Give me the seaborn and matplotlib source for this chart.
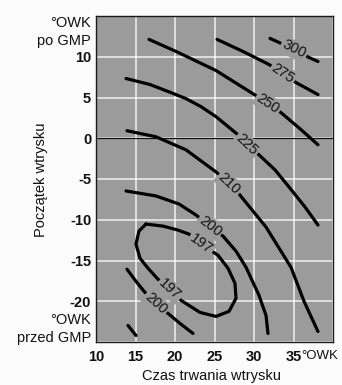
import numpy as np
import pandas as pd
import matplotlib
matplotlib.use("Agg")
import matplotlib.pyplot as plt
import seaborn as sns

# ---- data (contour lines of specific fuel consumption) ----
c300_x = [32.03, 33.42, 35.06, 36.96, 38.10]
c300_y = [12.25, 11.64, 10.90, 9.91, 9.42]

c275_x = [25.32, 28.61, 31.90, 33.67, 35.32, 38.10]
c275_y = [12.13, 10.65, 9.05, 7.94, 6.83, 5.36]

c250_x = [16.71, 20.13, 25.19, 30.25, 31.77, 33.42, 35.82, 38.10]
c250_y = [12.13, 10.65, 8.31, 5.23, 4.25, 3.14, 1.17, -0.80]

c225_x = [13.80, 16.84, 19.49, 21.39, 23.29, 25.19, 27.97, 29.11, 30.63, 32.66, 34.94, 36.46, 38.10]
c225_y = [7.33, 6.59, 5.60, 4.86, 3.88, 2.65, 0.43, -0.80, -2.03, -3.88, -6.59, -8.44, -10.65]

c210_x = [13.92, 17.59, 21.39, 25.19, 26.84, 28.10, 31.52, 34.68, 36.33, 38.10]
c210_y = [0.92, 0.18, -1.42, -4.13, -5.60, -6.83, -10.90, -15.83, -20.01, -23.71]

c210b_x = [14.05, 15.06]
c210b_y = [-22.97, -24.20]

c200_x = [13.80, 17.59, 20.51, 22.66, 24.43, 26.08, 27.72, 28.99, 30.63, 31.52, 31.77]
c200_y = [-6.47, -7.08, -8.07, -9.42, -10.78, -12.01, -13.85, -15.83, -19.27, -21.74, -23.95]

c200b_x = [13.92, 15.06, 16.08, 17.59, 19.11, 20.63, 22.28]
c200b_y = [-16.07, -17.55, -18.78, -20.26, -21.49, -22.72, -23.95]

c197_x = [16.33, 18.48, 20.38, 21.77, 23.29, 25.44, 26.71, 27.59, 27.72, 26.84,
          25.19, 23.16, 20.76, 19.37, 17.85, 16.58, 15.57, 15.06, 15.44, 16.33]
c197_y = [-10.53, -10.78, -11.27, -11.76, -12.99, -14.35, -15.95, -17.80, -19.64, -21.24,
          -21.86, -21.37, -19.89, -18.53, -17.30, -15.95, -14.72, -12.99, -11.39, -10.53]

x_ticks = [10, 15, 20, 25, 30, 35, 40]
x_tick_labels = ["10", "15", "20", "25", "30", "35", ""]
y_ticks = [-25, -20, -15, -10, -5, 0, 5, 10, 15]
y_tick_labels = ["", "-20", "-15", "-10", "-5", "0", "5", "10", ""]

# (level, xs, ys, indices of points where a label sits)
segments = [
    (300, c300_x, c300_y, [2]),
    (275, c275_x, c275_y, [3]),
    (250, c250_x, c250_y, [4]),
    (225, c225_x, c225_y, [7]),
    (210, c210_x, c210_y, [4]),
    (210, c210b_x, c210b_y, []),
    (200, c200_x, c200_y, [4]),
    (200, c200b_x, c200b_y, [3]),
    (197, c197_x, c197_y, [4, 13]),
]

rows = []
for sid, (lev, xs, ys, _) in enumerate(segments):
    for i, (xv, yv) in enumerate(zip(xs, ys)):
        rows.append({"seg": sid, "level": lev, "order": i, "x": xv, "y": yv})
df = pd.DataFrame(rows)

# ---- style ----
sns.set_theme(style="darkgrid")
plt.rcParams["font.family"] = ["Liberation Sans", "DejaVu Sans"]
plt.rcParams["axes.unicode_minus"] = False

BG = "#9b9b9b"
fig = plt.figure(figsize=(3.42, 3.85), dpi=100, facecolor="#fbfbfb")
ax = fig.add_axes([96 / 342, 1 - 342 / 385, 237 / 342, 326 / 385])
ax.set_facecolor(BG)

sns.lineplot(data=df, x="x", y="y", units="seg", estimator=None, sort=False,
             color="black", lw=2.3, ax=ax, legend=False, zorder=2)

ax.axhline(0, color="#111111", lw=0.9, zorder=1.5)

ax.set_xlim(10, 40)
ax.set_ylim(-25, 15)
ax.set_xticks(x_ticks)
ax.set_xticklabels(x_tick_labels, fontweight="bold")
ax.set_yticks(y_ticks)
ax.set_yticklabels(y_tick_labels, fontweight="bold")
ax.tick_params(length=0, labelsize=10.5, colors="#111111")
ax.tick_params(axis="x", pad=5.5)
ax.tick_params(axis="y", pad=3.5)
ax.grid(True, color="white", lw=1.1, alpha=0.85)
ax.set_axisbelow(True)
ax.set_xlabel("")
ax.set_ylabel("")
for sp in ax.spines.values():
    sp.set_visible(True)
    sp.set_color("#1a1a1a")
    sp.set_linewidth(1.0)

# contour labels
for lev, xs, ys, idxs in segments:
    for i in idxs:
        p1 = ax.transData.transform((xs[i - 1], ys[i - 1]))
        p2 = ax.transData.transform((xs[i + 1], ys[i + 1]))
        ang = np.degrees(np.arctan2(p2[1] - p1[1], p2[0] - p1[0]))
        if ang > 90:
            ang -= 180
        if ang < -90:
            ang += 180
        ax.text(xs[i], ys[i], str(lev), rotation=ang, rotation_mode="anchor",
                ha="center", va="center", fontsize=10.5, color="#111111", zorder=3,
                bbox=dict(boxstyle="square,pad=0.12", fc=BG, ec="none"))

# extra unit texts
ax.annotate("°OWK", xy=(35.95, 0), xycoords=("data", "axes fraction"),
            xytext=(0, -6), textcoords="offset points", ha="left", va="top",
            fontsize=9.5, color="#111111")
fig.text(91 / 342, 1 - 23 / 385, "°OWK", ha="right", va="center", fontsize=10.5, color="#111111")
fig.text(91 / 342, 1 - 41 / 385, "po GMP", ha="right", va="center", fontsize=10.5, color="#111111")
fig.text(91 / 342, 1 - 320 / 385, "°OWK", ha="right", va="center", fontsize=10.5, color="#111111")
fig.text(91 / 342, 1 - 338 / 385, "przed GMP", ha="right", va="center", fontsize=10.5, color="#111111")

fig.text(211.5 / 342, 1 - 376 / 385, "Czas trwania wtrysku", ha="center", va="center",
         fontsize=10.5, color="#111111")
fig.text(41 / 342, 1 - 180 / 385, "Początek wtrysku", ha="center", va="center",
         rotation=90, fontsize=10.5, color="#111111")

fig.savefig("out.png", dpi=100, facecolor=fig.get_facecolor())
